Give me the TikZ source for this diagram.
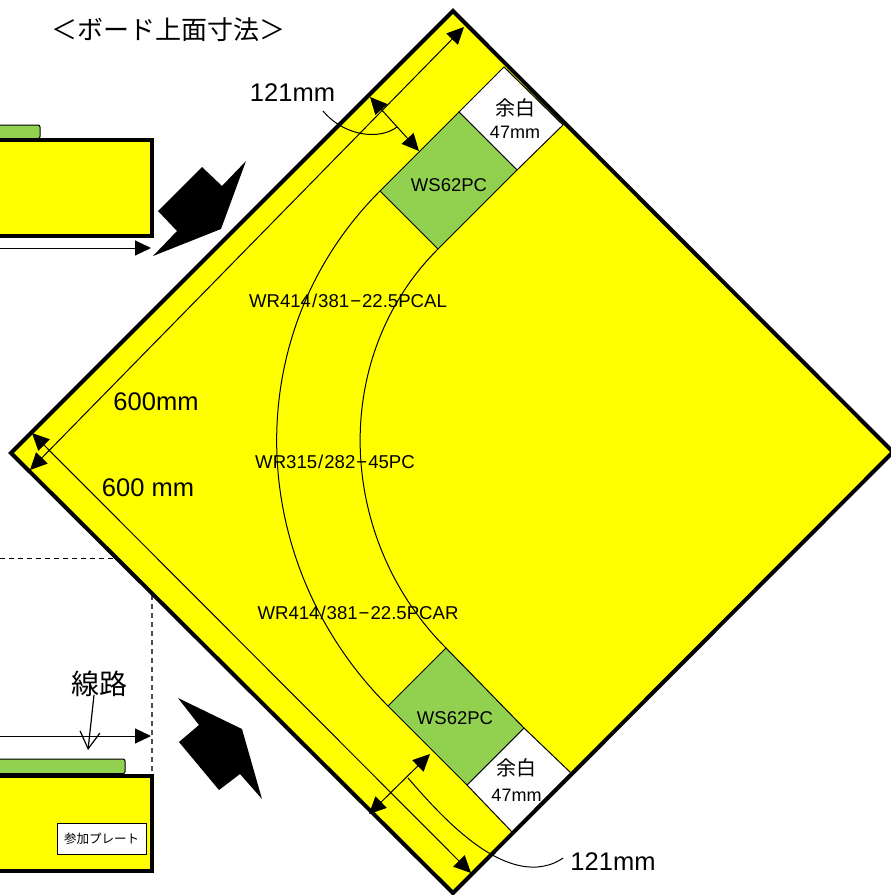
\documentclass[tikz,border=0pt]{standalone}
\usepackage{fontspec}
\setmainfont{Liberation Sans}
\newfontfamily\cjk{Noto Sans CJK JP}
\usetikzlibrary{arrows.meta}
\definecolor{boardyellow}{RGB}{255,255,0}
\definecolor{plategreen}{RGB}{146,208,80}
\newcommand{\wrslash}{\kern1pt/\kern1pt}
\newcommand{\wrdash}{\kern1pt−\kern1pt}
\tikzset{
	x=1pt,y=-1pt,
	thinline/.style={draw=black,line width=1pt},
	boardedge/.style={draw=black,line width=4pt,line join=miter},
	dimarrow/.style={thinline,{Triangle[length=17pt,width=16pt]}-{Triangle[length=17pt,width=16pt]}},
	feedarrow/.style={thinline,-{Triangle[length=16pt,width=15pt]}},
	sizelabel/.style={inner sep=0pt,font=\fontsize{25.5}{28}\selectfont},
	partlabel/.style={inner sep=0pt,font=\fontsize{18.6}{21}\selectfont},
	platelabel/.style={inner sep=0pt,font=\fontsize{18.5}{20}\selectfont},
	marginnum/.style={inner sep=0pt,font=\fontsize{18}{20}\selectfont},
	marginlabel/.style={inner sep=0pt,font=\fontsize{20}{22}\selectfont\cjk},
}
\begin{document}
\begin{tikzpicture}
	\useasboundingbox (0,0) rectangle (891,895);
	% side views
	\draw[thinline,fill=plategreen,rounded corners=2pt] (-8,125) rectangle (40,138.5);
	\draw[boardedge,fill=boardyellow] (-8,140) rectangle (152,235.5);
	\draw[thinline,fill=plategreen,rounded corners=2pt] (-8,759) rectangle (125,773.5);
	\draw[boardedge,fill=boardyellow] (-8,775.5) rectangle (152,871);
	\node[draw=black,line width=1pt,fill=white,minimum width=89pt,minimum height=31pt,inner sep=0pt,font=\fontsize{12.5}{14}\selectfont\cjk] (extraplate) at (101.5,838.5) {参加プレート};
	\coordinate (feedtopstart) at (-5,248);
	\coordinate (feedtopend) at (151,248);
	\coordinate (feedbotstart) at (-5,736);
	\coordinate (feedbotend) at (151,736);
	\draw[feedarrow] (feedtopstart) -- (feedtopend);
	\draw[feedarrow] (feedbotstart) -- (feedbotend);
	\draw[draw=black,line width=1pt,dash pattern=on 5pt off 4pt] (0,558) -- (115,558);
	\draw[draw=black!70,line width=1.5pt,dash pattern=on 5pt off 4pt] (152,595) -- (152,774);
	% view arrows
	\fill[black] (246,161) -- (222,186) -- (202,167) -- (158,211) -- (177,231) -- (153,256) -- (221,229) -- cycle;
	\fill[black] (178,698) -- (199,725) -- (179,742) -- (219,790) -- (240,774) -- (262,799) -- (242,729) -- cycle;
	% board
	\coordinate (boardtop) at (453,11);
	\coordinate (boardleft) at (11,453);
	\coordinate (boardbot) at (453,893);
	\coordinate (boardright) at (893,452);
	\fill[boardyellow] (boardtop) -- (boardright) -- (boardbot) -- (boardleft) -- cycle;
	% upper plate
	\coordinate (uptop) at (459,112);
	\coordinate (upright) at (517,170);
	\coordinate (upbot) at (438,249);
	\coordinate (upleft) at (380,191);
	\draw[thinline,fill=white] (504,67) -- (uptop) -- (upright) -- (563,125) -- cycle;
	\draw[thinline,fill=plategreen] (uptop) -- (upright) -- (upbot) -- (upleft) -- cycle;
	% lower plate
	\coordinate (lowtop) at (446,648);
	\coordinate (lowright) at (524,728);
	\coordinate (lowbot) at (467,785);
	\coordinate (lowleft) at (388,706);
	\draw[thinline,fill=white] (lowbot) -- (lowright) -- (571,773) -- (512,832) -- cycle;
	\draw[thinline,fill=plategreen] (lowtop) -- (lowright) -- (lowbot) -- (lowleft) -- cycle;
	% rails
	\draw[thinline] (upleft) .. controls (237,334) and (245,563) .. (lowleft);
	\draw[thinline] (upbot) .. controls (329,358) and (337,539) .. (lowtop);
	% dimensions
	\coordinate (dimatop) at (464,27);
	\coordinate (dimabot) at (30,470);
	\coordinate (dimbtop) at (32,433);
	\coordinate (dimbbot) at (471,873);
	\draw[dimarrow] (dimabot) -- (dimatop);
	\draw[dimarrow] (dimbtop) -- (dimbbot);
	\coordinate (gaputop) at (370,97);
	\coordinate (gapubot) at (419,151);
	\coordinate (gapltop) at (430,754);
	\coordinate (gaplbot) at (369,814);
	\draw[dimarrow] (gaputop) -- (gapubot);
	\draw[dimarrow] (gapltop) -- (gaplbot);
	\draw[boardedge] (boardtop) -- (boardright) -- (boardbot) -- (boardleft) -- cycle;
	% labels
	\node[inner sep=0pt,font=\fontsize{26}{28}\selectfont\cjk] (title) at (168.5,30) {＜ボード上面寸法＞};
	\node[sizelabel] (gapu) at (292.5,93) {121mm};
	\node[sizelabel] (gapl) at (613,862) {121mm};
	\node[sizelabel] (lena) at (156,402) {600mm};
	\node[sizelabel] (lenb) at (148,488) {600 mm};
	\draw[thinline] (323,111) .. controls (345,137) and (380,140) .. (397,127);
	\draw[thinline] (408,778) .. controls (440,815) and (490,870) .. (537,867) .. controls (548,866) and (556,863) .. (563,858);
	\node[platelabel] (wsu) at (449,185) {WS62PC};
	\node[platelabel] (wsl) at (455,718) {WS62PC};
	\node[partlabel] (wra) at (348,301) {WR414\wrslash 381\wrdash 22.5PCAL};
	\node[partlabel] (wrb) at (335,462) {WR315\wrslash 282\wrdash 45PC};
	\node[partlabel] (wrc) at (358,613) {WR414\wrslash 381\wrdash 22.5PCAR};
	\node[marginlabel] (marginu) at (515,108) {余白};
	\node[marginnum] (marginum) at (515,132) {47mm};
	\node[marginlabel] (marginl) at (516,768) {余白};
	\node[marginnum] (marginlm) at (516.5,795) {47mm};
	\node[inner sep=0pt,font=\fontsize{28}{30}\selectfont\cjk] (track) at (99,684) {線路};
	\coordinate (tracktip) at (88,750);
	\draw[draw=black,line width=1.2pt,-{Straight Barb[length=17pt,width=20pt]}] (94,695) -- (tracktip);
\end{tikzpicture}
\end{document}
